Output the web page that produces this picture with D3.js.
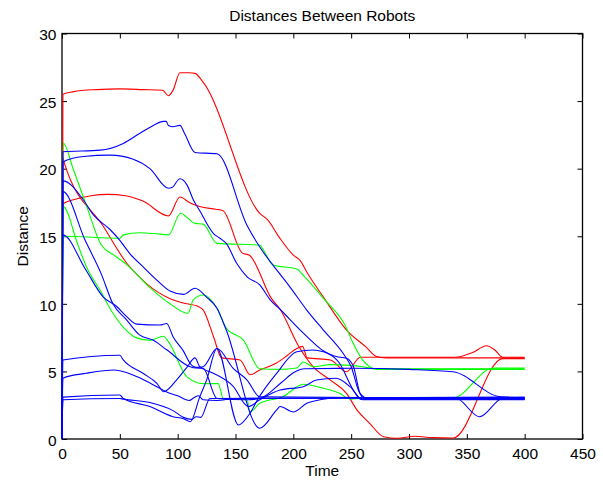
<!DOCTYPE html>
<html>
<head>
<meta charset="utf-8">
<script src="https://cdn.jsdelivr.net/npm/d3@7/dist/d3.min.js"></script>
<style>
  html, body { margin: 0; padding: 0; background: #fff; }
  svg { display: block; }
  text { font-family: "Liberation Sans", Arial, Helvetica, sans-serif; fill: #000; }
</style>
</head>
<body>
<svg id="chart" width="603" height="480"></svg>
<script>
// ---- data (time, distance) ----
const xTicks = [0, 50, 100, 150, 200, 250, 300, 350, 400, 450];
const yTicks = [0, 5, 10, 15, 20, 25, 30];

const red1 = [[0,0],[0.8,25.5],[10,25.7],[30,25.85],[50,25.9],[70,25.85],[87,25.8],[92,25.4],[96,25.8],[102,27.1],[110,27.1],[115,27.05],[122,26.4],[171,16.7],[178,16.2],[188,14.9],[200,13.6],[206,13.2],[212,12.3],[226,10.5],[246,8.06],[263,6.8],[272,6.1],[280,6.0],[400,6.0]];
const red2 = [[0,0],[0.8,20.8],[1.7,20.5],[36,15.7],[56,13.0],[73,11.5],[93,10.4],[108,10.0],[116.5,9.85],[122,9.55],[131,7.57],[138,6.0],[154,5.85],[162.5,4.75],[171,5.1],[185,5.6],[195,6.2],[203,6.7],[208,6.85],[212,6.0],[232,5.85],[246,4.98],[258,6.05],[340,6.05],[355,6.4],[367,6.9],[374,6.6],[381,6.05],[400,6.05]];
const red3 = [[0,0],[0.8,17.4],[10,17.7],[25,18.0],[40,18.1],[55,18.0],[70,17.6],[92,16.5],[102,17.9],[110,17.5],[119,17.2],[133,17.0],[139,16.9],[156,13.75],[162,13.6],[181,10.4],[188.5,9.6],[205,6.8],[217,5.35],[232,4.36],[246,3.38],[255,2.15],[266,1.16],[278,0.17],[290,0.05],[305,0.2],[320,0.1],[338,0.07],[381,5.95],[400,5.95]];

const green1 = [[0,0],[1,21.9],[10,19.9],[21,17.3],[34,14.35],[45,13.6],[56,12.9],[76,11.2],[93.4,10.0],[109,9.3],[113.5,10.3],[122,10.65],[134,9.67],[142,8.2],[157,7.3],[171,5.2],[188,5.15],[203,5.25],[208.5,5.7],[217,5.35],[232,5.5],[249,5.45],[260,5.35],[270,5.2],[400,5.2]];
const green2 = [[0,0],[1,17.2],[13.8,14.35],[21.3,12.7],[33,11.0],[44,9.3],[56,8.0],[64,7.5],[76,7.3],[87.6,7.6],[92,7.2],[108,4.6],[122,4.1],[135,4.1],[139.5,3.0],[160,2.9],[162.5,2.0],[171,2.64],[191,3.13],[208.6,4.05],[226,3.75],[240,3.38],[249,2.95],[258,3.0],[338,3.05],[373,5.25],[400,5.25]];
const green3 = [[0,0],[1,15.0],[50,14.85],[53,15.1],[67,15.26],[80,15.2],[92,15.1],[102.6,16.7],[108,16.4],[115,15.95],[122,15.9],[134,14.47],[171,14.35],[174,14.0],[182.6,12.87],[203,12.57],[208.6,12.1],[226,10.4],[246,8.2],[250.5,7.3],[260,5.84],[266,5.35],[272,5.15],[400,5.15]];

const blue1 = [[0,0],[0.8,21.25],[33,21.37],[53,21.87],[67,22.6],[79,23.2],[87.6,23.5],[90,23.5],[92,23.2],[96,23.1],[102,23.2],[106,22.6],[115,21.2],[134,21.1],[160,15.8],[171,14.2],[188.5,12.2],[197,11.26],[211.6,9.54],[226,8.06],[243,6.34],[250,5.35],[257.6,3.38],[265,3.0],[400,3.0]];
const blue2 = [[0,0],[0.8,20.5],[18.4,20.9],[41.5,21.0],[61.6,20.7],[76,20.0],[92,18.55],[95,18.6],[102,19.25],[108,18.8],[113.5,17.7],[119,16.9],[131,15.2],[136.6,14.85],[142,14.47],[151,13.0],[160,12.0],[171,11.4],[180,10.3],[188.5,9.6],[206,8.06],[223,6.7],[240,5.6],[252,3.6],[258,2.95],[400,2.95]];
const blue3 = [[0,0],[0.8,19.1],[18.4,17.7],[27,16.6],[41.5,15.5],[50,14.7],[58.8,13.7],[70,12.75],[82,11.76],[93.4,10.95],[105,10.7],[115,11.15],[125,10.5],[134,9.67],[142,8.06],[171,0.8],[185.6,2.15],[188.5,2.4],[200,2.0],[211.6,2.64],[223,2.9],[240,3.05],[340,3.05],[361,1.65],[381,3.0],[400,3.0]];
const blue4 = [[0,0],[0.8,15.1],[20,12.6],[35.7,10.5],[47.3,9.8],[56,9.05],[64.6,8.5],[84.7,8.43],[90.5,8.55],[96,7.57],[105,6.5],[110.7,5.6],[116,5.3],[122,5.35],[134,6.7],[148,5.23],[160,4.36],[171,3.13],[400,3.0]];
const blue5 = [[0,0],[0.8,18.3],[20,14.7],[34,12.2],[44,10.0],[56,8.8],[67,7.7],[79,7.3],[90.5,6.6],[110.7,5.35],[116,5.25],[122,5.23],[134,3.0],[160,2.9],[171,3.0],[190,4.2],[200,4.9],[210,5.2],[250,5.23],[300,5.15],[338,4.98],[378.7,3.13],[400,3.05]];
const blue6 = [[0,0],[0.8,5.85],[50,6.2],[53,5.85],[70,4.86],[82,4.12],[88,3.5],[99,4.36],[108,5.3],[115,6.0],[119,5.35],[130,4.9],[148,3.9],[161,2.4],[171,2.9],[188.5,3.62],[208.6,3.87],[220,4.36],[237,4.49],[249,3.87],[260,2.9],[400,2.9]];
const blue7 = [[0,0],[0.8,4.5],[21,4.86],[45,5.1],[50,5.05],[65,4.6],[82,3.87],[90,3.5],[100,3.2],[110,2.85],[114,3.05],[118,3.2],[122,2.9],[134,2.85],[150,3.0],[400,3.1]];
const blue8 = [[0,0],[0.8,3.1],[50,3.25],[53,3.0],[76,2.4],[96,1.65],[105,1.5],[111,1.28],[119,3.1],[125,4.36],[134,6.7],[152.5,1.04],[162.5,1.9],[169,2.9],[185.6,4.86],[203,6.46],[217,6.58],[226,6.46],[237,6.1],[246,5.97],[252,5.35],[257.6,3.38],[262,2.95],[400,2.95]];
const blue9 = [[0,0],[0.8,2.9],[50,3.0],[53,2.95],[76,2.7],[96,2.1],[105,1.6],[112,1.45],[116,1.65],[120,1.6],[128,3.0],[400,3.05]];

const seriesList = [
  {data: red1, color: "#ff0000"}, {data: red2, color: "#ff0000"}, {data: red3, color: "#ff0000"},
  {data: green1, color: "#00ff00"}, {data: green2, color: "#00ff00"}, {data: green3, color: "#00ff00"},
  {data: blue1, color: "#0000ff"}, {data: blue2, color: "#0000ff"}, {data: blue3, color: "#0000ff"},
  {data: blue4, color: "#0000ff"}, {data: blue5, color: "#0000ff"}, {data: blue6, color: "#0000ff"},
  {data: blue7, color: "#0000ff"}, {data: blue8, color: "#0000ff"}, {data: blue9, color: "#0000ff"}
];

// ---- layout ----
const L = 62, R = 582.5, T = 33.5, B = 439;
const fs = "15.5px";
const svg = d3.select("#chart");
const x = d3.scaleLinear().domain([0, 450]).range([L, R]);
const y = d3.scaleLinear().domain([0, 30]).range([B, T]);

// axes
const gx = svg.append("g").attr("transform", `translate(0,${B})`)
  .call(d3.axisBottom(x).tickValues(xTicks).tickSize(-5).tickPadding(9).tickSizeOuter(0));
const gxt = svg.append("g").attr("transform", `translate(0,${T})`)
  .call(d3.axisTop(x).tickValues(xTicks).tickSize(-5).tickFormat("").tickSizeOuter(0));
const gy = svg.append("g").attr("transform", `translate(${L},0)`)
  .call(d3.axisLeft(y).tickValues(yTicks).tickSize(-5).tickPadding(5.5).tickSizeOuter(0));
const gyr = svg.append("g").attr("transform", `translate(${R},0)`)
  .call(d3.axisRight(y).tickValues(yTicks).tickSize(-5).tickFormat("").tickSizeOuter(0));

[gx, gxt, gy, gyr].forEach(g => {
  g.selectAll(".domain").remove();
  g.selectAll("line").attr("stroke", "#000").attr("stroke-width", 1);
  g.selectAll("text").style("font-size", fs).attr("fill", "#000")
    .style("font-family", '"Liberation Sans", Arial, sans-serif');
});
gy.selectAll("text").attr("dy", "0.4em");

svg.append("rect").attr("x", L).attr("y", T).attr("width", R - L).attr("height", B - T)
  .attr("fill", "none").attr("stroke", "#000").attr("stroke-width", 1.3);

// lines
const line = d3.line().x(d => x(d[0])).y(d => y(d[1])).curve(d3.curveMonotoneX);
svg.append("g").selectAll("path").data(seriesList).join("path")
  .attr("d", d => line(d.data))
  .attr("fill", "none")
  .attr("stroke", d => d.color)
  .attr("stroke-width", 1.1)
  .attr("stroke-linejoin", "round");

// labels
svg.append("text").attr("x", (L + R) / 2).attr("y", 21).attr("text-anchor", "middle")
  .style("font-size", fs).text("Distances Between Robots");
svg.append("text").attr("x", (L + R) / 2).attr("y", 476).attr("text-anchor", "middle")
  .style("font-size", fs).text("Time");
svg.append("text").attr("transform", `translate(28,${(T + B) / 2}) rotate(-90)`)
  .attr("text-anchor", "middle").style("font-size", fs).text("Distance");
</script>
</body>
</html>
